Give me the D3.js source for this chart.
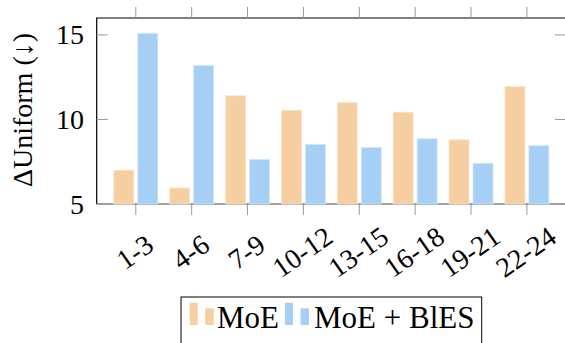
<!DOCTYPE html>
<html>
<head>
<meta charset="utf-8">
<script src="https://cdn.jsdelivr.net/npm/d3@7"></script>
<style>
  html, body { margin: 0; padding: 0; background: #fff; }
  svg { display: block; }
  svg text { font-family: 'Liberation Serif', 'Tinos', 'Times New Roman', 'DejaVu Serif', serif; }
</style>
</head>
<body>
<div id="chart"></div>
<script>
// ── Data ─────────────────────────────────────────────────────────────────────
const categories = ['1-3', '4-6', '7-9', '10-12', '13-15', '16-18', '19-21', '22-24'];
const moe        = [7.0, 5.95, 11.4, 10.55, 11.0, 10.43, 8.8, 11.94];
const moeBles    = [15.1, 13.2, 7.64, 8.53, 8.34, 8.86, 7.41, 8.45];
const yTicks     = [5, 10, 15];
const seriesNames = ['MoE', 'MoE + BlES'];

// ── Layout ───────────────────────────────────────────────────────────────────
const W = 565, H = 343;
const M = { l: 96.7, r: 566, t: 18, b: 204 };
const COL = { moe: '#F5CEA1', bles: '#A6CFF5' };
const EDGE = { moe: '#FBE6CE', bles: '#D3E8FB' };
const BAR_W = 20, OFF = 12;
const FS = 28;

const svg = d3.select('#chart').append('svg')
  .attr('width', W).attr('height', H);

const x = d3.scalePoint().domain(categories).range([M.l, M.r]).padding(0.7);
const y = d3.scaleLinear().domain([5, 16]).range([M.b, M.t]);

// bottom axis line (under the bars)
svg.append('line')
  .attr('x1', M.l).attr('x2', M.r).attr('y1', M.b).attr('y2', M.b)
  .attr('stroke', '#444').attr('stroke-width', 1);

// ── Bars ─────────────────────────────────────────────────────────────────────
const series = [
  { vals: moe, dx: -OFF, fill: COL.moe, edge: EDGE.moe },
  { vals: moeBles, dx: OFF, fill: COL.bles, edge: EDGE.bles },
];
series.forEach(s => {
  svg.append('g').selectAll('rect')
    .data(categories)
    .join('rect')
    .attr('x', (c, i) => x(c) + s.dx - BAR_W / 2)
    .attr('y', (c, i) => y(s.vals[i]))
    .attr('width', BAR_W)
    .attr('height', (c, i) => y(5) - y(s.vals[i]))
    .attr('fill', s.fill)
    .attr('stroke', s.edge).attr('stroke-width', 0.8);
});

// ── Frame (left + top) ───────────────────────────────────────────────────────
svg.append('path')
  .attr('d', `M${M.l},${M.b}V${M.t}H${M.r}V${M.b}`)
  .attr('fill', 'none').attr('stroke', '#000').attr('stroke-width', 1.2);

// ── Ticks ────────────────────────────────────────────────────────────────────
const tickCol = '#999';
categories.forEach(c => {
  svg.append('line').attr('x1', x(c)).attr('x2', x(c))
    .attr('y1', M.b).attr('y2', M.b + 11).attr('stroke', tickCol);
  svg.append('line').attr('x1', x(c)).attr('x2', x(c))
    .attr('y1', M.t - 11).attr('y2', M.t).attr('stroke', tickCol);
  svg.append('text')
    .attr('transform', `translate(${x(c) - 1},${252}) rotate(-35)`)
    .attr('text-anchor', 'middle').attr('dominant-baseline', 'central')
    .attr('font-size', FS).attr('fill', '#000')
    .text(c);
});
yTicks.forEach(v => {
  svg.append('line').attr('x1', M.l).attr('x2', M.l + 11)
    .attr('y1', y(v)).attr('y2', y(v)).attr('stroke', tickCol);
  svg.append('line').attr('x1', M.r - 11).attr('x2', M.r)
    .attr('y1', y(v)).attr('y2', y(v)).attr('stroke', tickCol);
  svg.append('text')
    .attr('x', 84).attr('y', y(v))
    .attr('text-anchor', 'end').attr('dominant-baseline', 'central')
    .attr('font-size', FS).text(v);
});

// y label
svg.append('text')
  .attr('transform', `translate(22,${110}) rotate(-90)`)
  .attr('text-anchor', 'middle').attr('dominant-baseline', 'central')
  .attr('font-size', FS)
  .text('ΔUniform (↓)');

// ── Legend ───────────────────────────────────────────────────────────────────
const lg = svg.append('g');
lg.append('rect')
  .attr('x', 181).attr('y', 297).attr('width', 300.7).attr('height', 60)
  .attr('fill', '#fff').attr('stroke', '#000').attr('stroke-width', 1);
const legItems = [
  { x0: 189.7, tx: 217, fill: COL.moe, label: seriesNames[0] },
  { x0: 285, tx: 314, fill: COL.bles, label: seriesNames[1] },
];
legItems.forEach(l => {
  lg.append('rect').attr('x', l.x0).attr('y', 302.7).attr('width', 8).attr('height', 22.3)
    .attr('fill', l.fill);
  lg.append('rect').attr('x', l.x0 + 15.5).attr('y', 308.3).attr('width', 8.5).attr('height', 16.7)
    .attr('fill', l.fill);
  lg.append('text').attr('x', l.tx).attr('y', 327.5)
    .attr('font-size', 31).text(l.label);
});
</script>
</body>
</html>
